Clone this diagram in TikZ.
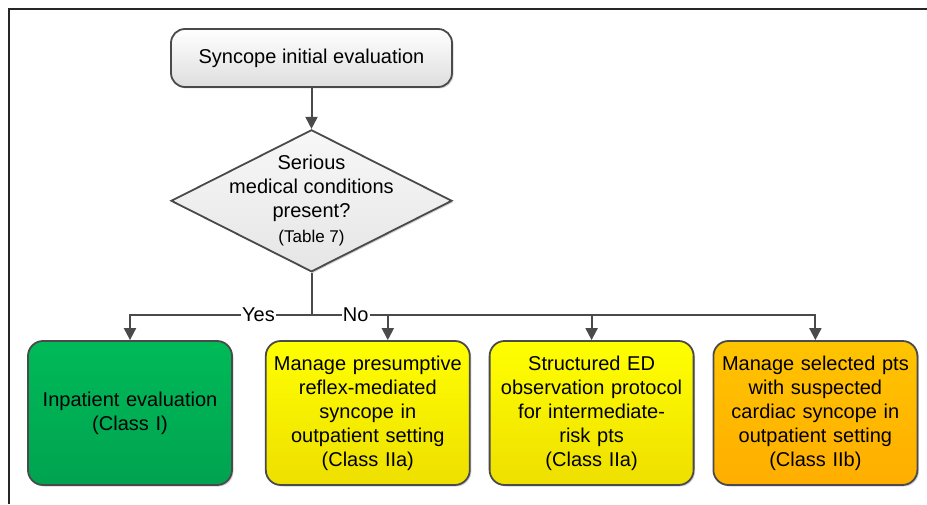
\documentclass[tikz,border=0pt]{standalone}
\usepackage{fontspec}
\setmainfont{Liberation Sans}
\usepackage{tikz}
\usetikzlibrary{arrows.meta,positioning,shapes,calc,shadows}
\definecolor{edge}{HTML}{4A4A4A}
\definecolor{greentop}{HTML}{00BA58}
\definecolor{greenbot}{HTML}{00A350}
\definecolor{yellowtop}{HTML}{FFFF00}
\definecolor{yellowbot}{HTML}{EEDF00}
\definecolor{orangetop}{HTML}{FFC400}
\definecolor{orangebot}{HTML}{FFAE00}

\begin{document}
\begin{tikzpicture}[
    x=1pt, y=1pt,
    node distance=18pt,
    every node/.style={font=\fontsize{20}{24}\selectfont},
    startbox/.style={draw=edge, line width=1.8pt, rounded corners=14pt, align=center, minimum width=281pt, minimum height=58pt, top color=white, bottom color=black!13, drop shadow={shadow xshift=1.5pt, shadow yshift=-1.5pt, opacity=0.35}},
    decision/.style={diamond, draw=edge, line width=1.8pt, minimum width=281pt, minimum height=142pt, inner sep=0pt, top color=black!3, bottom color=black!10, drop shadow={shadow xshift=1.5pt, shadow yshift=-1.5pt, opacity=0.35}},
    box/.style={draw=edge, line width=1.8pt, rounded corners=15pt, align=center, minimum width=204pt, minimum height=144pt, text width=196pt, drop shadow={shadow xshift=1.5pt, shadow yshift=-1.5pt, opacity=0.35}},
    tag/.style={fill=white, inner sep=1pt},
    >={Triangle[length=12pt, width=12pt]},
  ]
    \useasboundingbox (0,0) rectangle (927,504);
    % Frame
    \draw[line width=2.4pt, black!85] (9,0) -- (9,495) -- (927,495);
    % Start
    \node[startbox] (start) at (311.5,446) {Syncope initial evaluation};
    % Decision
    \node[decision, below=41pt of start] (cond) {};
    \node[align=center] (condtext) at (cond) {Serious\\medical conditions\\present?\\[1pt]{\fontsize{17}{20}\selectfont (Table 7)}};
    \coordinate (split) at ($(cond.south)+(0,-42)$);
    % Outcomes
    \node[box, top color=greentop, bottom color=greenbot] (inpat) at (130,91) {Inpatient evaluation\\(Class I)};
    \node[box, top color=yellowtop, bottom color=yellowbot, right=32pt of inpat] (reflex) {Manage presumptive\\reflex-mediated\\syncope in\\outpatient setting\\(Class IIa)};
    \node[box, top color=yellowtop, bottom color=yellowbot, right=of reflex] (edobs) {Structured ED\\observation protocol\\for intermediate-\\risk pts\\(Class IIa)};
    \node[box, top color=orangetop, bottom color=orangebot, right=of edobs] (cardiac) {Manage selected pts\\with suspected\\cardiac syncope in\\outpatient setting\\(Class IIb)};

    % Edges
    \draw[->, line width=2pt, edge] (start) -- (cond);
    \draw[line width=2pt, edge] (cond) -- (split);
    \draw[->, line width=2pt, edge] (split) -| (cardiac);
    \draw[->, line width=2pt, edge] (split) -| (edobs);
    \draw[->, line width=2pt, edge] (split) -| node[tag, pos=0.29, text=black]{No} ([xshift=20pt]reflex.north);
    \draw[->, line width=2pt, edge] (split) -| node[tag, pos=0.146, text=black]{Yes} (inpat);
  \end{tikzpicture}
\end{document}
